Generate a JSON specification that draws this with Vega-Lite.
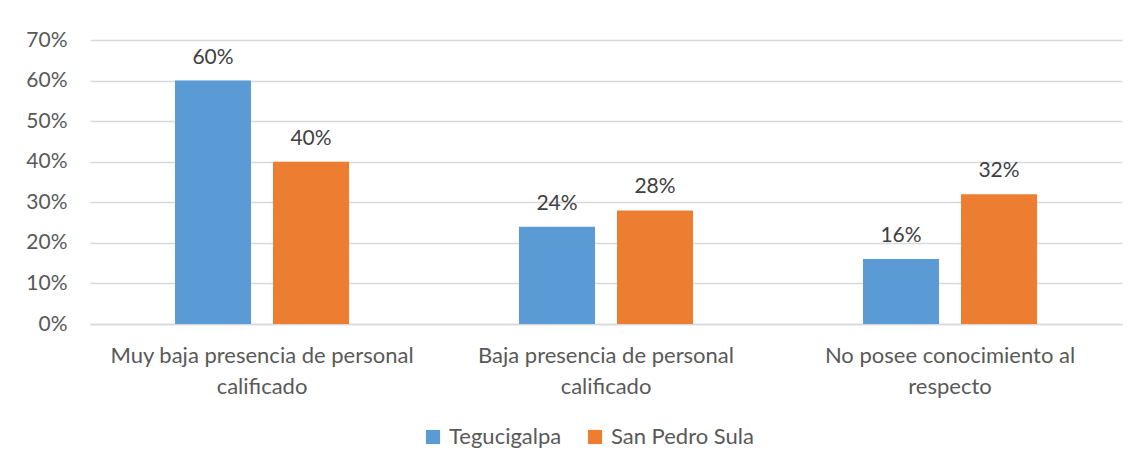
{
  "$schema": "https://vega.github.io/schema/vega-lite/v6.json",
  "autosize": "none",
  "width": 1032,
  "height": 284,
  "padding": {"left": 90, "top": 40, "right": 20, "bottom": 145},
  "background": "white",
  "config": {
    "font": "Lato",
    "view": {"stroke": null},
    "axis": {"labelFont": "Lato", "labelColor": "#595959"}
  },
  "data": {
    "values": [
      {"categoria": "Muy baja presencia de personal calificado", "ciudad": "Tegucigalpa", "valor": 0.60},
      {"categoria": "Muy baja presencia de personal calificado", "ciudad": "San Pedro Sula", "valor": 0.40},
      {"categoria": "Baja presencia de personal calificado", "ciudad": "Tegucigalpa", "valor": 0.24},
      {"categoria": "Baja presencia de personal calificado", "ciudad": "San Pedro Sula", "valor": 0.28},
      {"categoria": "No posee conocimiento al respecto", "ciudad": "Tegucigalpa", "valor": 0.16},
      {"categoria": "No posee conocimiento al respecto", "ciudad": "San Pedro Sula", "valor": 0.32}
    ]
  },
  "encoding": {
    "x": {
      "field": "categoria",
      "type": "nominal",
      "sort": null,
      "title": null,
      "scale": {"paddingInner": 0.494, "paddingOuter": 0.247},
      "axis": {
        "labelAngle": 0,
        "labelFontSize": 22,
        "labelLineHeight": 31,
        "labelPadding": 21,
        "labelLimit": 400,
        "ticks": false,
        "domainColor": "#D9D9D9",
        "domainWidth": 1.5,
        "labelExpr": "datum.label == 'Muy baja presencia de personal calificado' ? ['Muy baja presencia de personal', 'calificado'] : datum.label == 'Baja presencia de personal calificado' ? ['Baja presencia de personal', 'calificado'] : ['No posee conocimiento al', 'respecto']"
      }
    },
    "xOffset": {
      "field": "ciudad",
      "type": "nominal",
      "sort": ["Tegucigalpa", "San Pedro Sula"],
      "scale": {"paddingInner": 0.2245, "paddingOuter": 0}
    },
    "y": {
      "field": "valor",
      "type": "quantitative",
      "title": null,
      "scale": {"domain": [0, 0.7], "nice": false},
      "axis": {
        "values": [0, 0.1, 0.2, 0.3, 0.4, 0.5, 0.6, 0.7],
        "format": ".0%",
        "labelFontSize": 21,
        "labelPadding": 23,
        "ticks": false,
        "domain": false,
        "gridColor": "#D9D9D9",
        "gridWidth": 1.5
      }
    }
  },
  "layer": [
    {
      "mark": {"type": "bar"},
      "encoding": {
        "color": {
          "field": "ciudad",
          "type": "nominal",
          "sort": ["Tegucigalpa", "San Pedro Sula"],
          "scale": {"domain": ["Tegucigalpa", "San Pedro Sula"], "range": ["#5B9BD5", "#ED7D31"]},
          "legend": {
            "title": null,
            "orient": "none",
            "legendX": 332,
            "legendY": 386,
            "direction": "horizontal",
            "symbolType": "square",
            "symbolSize": 200,
            "symbolStrokeWidth": 0,
            "labelFontSize": 22,
            "labelColor": "#595959",
            "labelFont": "Lato",
            "labelOffset": 5,
            "columnPadding": 22
          }
        }
      }
    },
    {
      "mark": {"type": "text", "baseline": "bottom", "dy": -13, "fontSize": 21, "color": "#404040", "font": "Lato"},
      "encoding": {
        "text": {"field": "valor", "type": "quantitative", "format": ".0%"}
      }
    }
  ]
}
